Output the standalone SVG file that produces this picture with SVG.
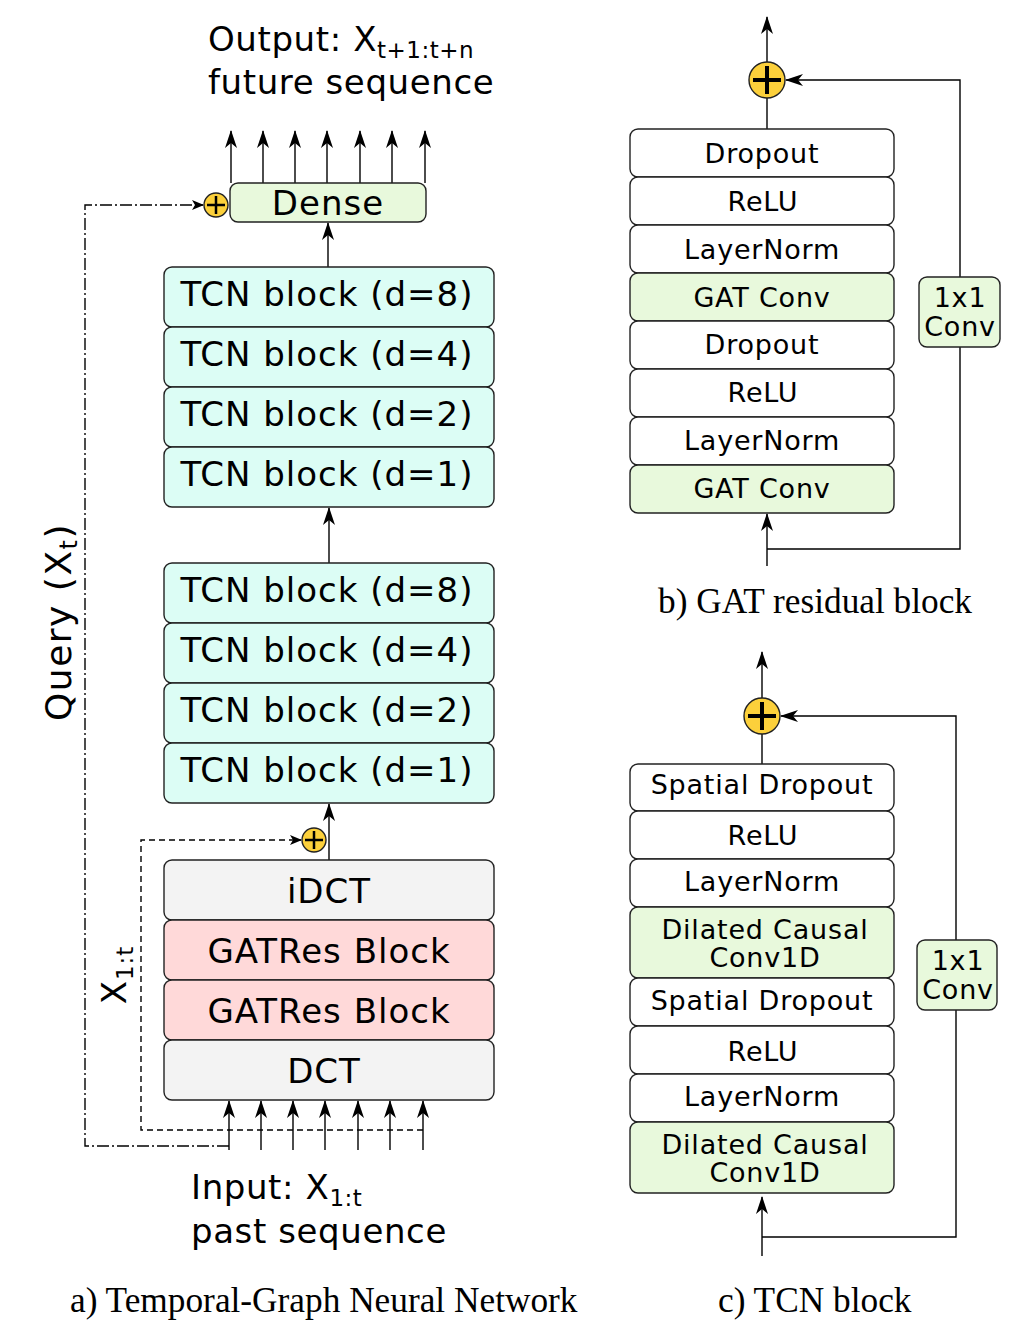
<svg xmlns="http://www.w3.org/2000/svg" width="1024" height="1328" viewBox="0 0 1024 1328">
<style>
.box{stroke:#222;stroke-width:1.4}
.w{fill:#ffffff}.g{fill:#e8f9dc}.c{fill:#dcfdf5}.p{fill:#ffd9d9}.s{fill:#f3f3f3}
.t{font-family:"DejaVu Sans",Verdana,sans-serif;fill:#000}
.big{font-size:34px;letter-spacing:1px}.mid{font-size:27px;letter-spacing:0.8px}
.lbl{font-size:34px;letter-spacing:0.6px}
.cap{font-family:"Liberation Serif","Times New Roman",serif;font-size:35.3px;fill:#000}
.ln{stroke:#000;stroke-width:1.4;fill:none}
.dash{stroke:#000;stroke-width:1.4;fill:none;stroke-dasharray:6 4}
.dd{stroke:#000;stroke-width:1.4;fill:none;stroke-dasharray:12 3 2 3}
.plus{fill:#fcd03b;stroke:#222;stroke-width:1.4}
</style>
<defs>
<marker id="arr" viewBox="0 0 18 12" refX="17" refY="6" markerWidth="18" markerHeight="12" markerUnits="userSpaceOnUse" orient="auto">
<path d="M0,0 L18,6 L0,12 L5,6 z" fill="#000"/>
</marker>
<marker id="arrs" viewBox="0 0 12 10" refX="11" refY="5" markerWidth="12" markerHeight="10" markerUnits="userSpaceOnUse" orient="auto">
<path d="M0,0 L12,5 L0,10 L3,5 z" fill="#000"/>
</marker>
</defs>

<!-- labels -->
<text class="t lbl" x="208" y="51">Output: X<tspan font-size="23" letter-spacing="0.5" dy="7">t+1:t+n</tspan></text>
<text class="t lbl" x="208" y="94">future sequence</text>
<text class="t lbl" x="191" y="1199">Input: X<tspan font-size="23" letter-spacing="0.5" dy="7">1:t</tspan></text>
<text class="t lbl" x="191" y="1243">past sequence</text>
<text class="t" font-size="36" letter-spacing="1.5" transform="translate(71,622) rotate(-90)" text-anchor="middle">Query (X<tspan font-size="24" dy="6">t</tspan><tspan dy="-6">)</tspan></text>
<text class="t big" transform="translate(126,975) rotate(-90)" text-anchor="middle">X<tspan font-size="23" dy="7">1:t</tspan></text>
<text class="cap" x="70" y="1312">a) Temporal-Graph Neural Network</text>
<text class="cap" x="658" y="613">b) GAT residual block</text>
<text class="cap" x="718" y="1312">c) TCN block</text>

<!-- connectors -->
<g id="connectors">
<line class="ln" x1="231" y1="183" x2="231" y2="131" marker-end="url(#arr)"/>
<line class="ln" x1="263" y1="183" x2="263" y2="131" marker-end="url(#arr)"/>
<line class="ln" x1="295" y1="183" x2="295" y2="131" marker-end="url(#arr)"/>
<line class="ln" x1="327" y1="183" x2="327" y2="131" marker-end="url(#arr)"/>
<line class="ln" x1="360" y1="183" x2="360" y2="131" marker-end="url(#arr)"/>
<line class="ln" x1="392" y1="183" x2="392" y2="131" marker-end="url(#arr)"/>
<line class="ln" x1="425" y1="183" x2="425" y2="131" marker-end="url(#arr)"/>
<line class="ln" x1="328" y1="267" x2="328" y2="223" marker-end="url(#arr)"/>
<line class="ln" x1="329" y1="563" x2="329" y2="508" marker-end="url(#arr)"/>
<line class="ln" x1="329" y1="860" x2="329" y2="804" marker-end="url(#arr)"/>
<line class="ln" x1="229" y1="1150" x2="229" y2="1101" marker-end="url(#arr)"/>
<line class="ln" x1="261" y1="1150" x2="261" y2="1101" marker-end="url(#arr)"/>
<line class="ln" x1="293" y1="1150" x2="293" y2="1101" marker-end="url(#arr)"/>
<line class="ln" x1="325" y1="1150" x2="325" y2="1101" marker-end="url(#arr)"/>
<line class="ln" x1="358" y1="1150" x2="358" y2="1101" marker-end="url(#arr)"/>
<line class="ln" x1="390" y1="1150" x2="390" y2="1101" marker-end="url(#arr)"/>
<line class="ln" x1="423" y1="1150" x2="423" y2="1101" marker-end="url(#arr)"/>
<polyline class="dash" points="423,1130 141,1130 141,840 301,840" marker-end="url(#arrs)"/>
<polyline class="dd" points="229,1146 85,1146 85,205 203,205" marker-end="url(#arrs)"/>
<!-- b -->
<line class="ln" x1="767" y1="129" x2="767" y2="98"/>
<line class="ln" x1="767" y1="62" x2="767" y2="17" marker-end="url(#arr)"/>
<line class="ln" x1="767" y1="566" x2="767" y2="514" marker-end="url(#arr)"/>
<polyline class="ln" points="767,549 960,549 960,347"/>
<polyline class="ln" points="960,277 960,80 786,80" marker-end="url(#arr)"/>
<!-- c -->
<line class="ln" x1="762" y1="764" x2="762" y2="734"/>
<line class="ln" x1="762" y1="698" x2="762" y2="652" marker-end="url(#arr)"/>
<line class="ln" x1="762" y1="1256" x2="762" y2="1197" marker-end="url(#arr)"/>
<polyline class="ln" points="762,1237 956,1237 956,1010"/>
<polyline class="ln" points="956,940 956,716 781,716" marker-end="url(#arr)"/>
</g>

<!-- plus nodes -->
<g id="add-dense"><circle class="plus" cx="216" cy="205" r="12"/><path d="M207,205 H225 M216,196 V214" stroke="#000" stroke-width="2.5"/></g>
<g id="add-idct"><circle class="plus" cx="314" cy="840" r="12"/><path d="M305,840 H323 M314,831 V849" stroke="#000" stroke-width="2.5"/></g>
<g id="add-gat"><circle class="plus" cx="767" cy="80" r="18"/><path d="M753,80 H781 M767,66 V94" stroke="#000" stroke-width="4"/></g>
<g id="add-tcn"><circle class="plus" cx="762" cy="716" r="18"/><path d="M748,716 H776 M762,702 V730" stroke="#000" stroke-width="4"/></g>

<!-- left column nodes -->
<g id="dense"><rect class="box g" x="230" y="183" width="196" height="39" rx="8"/><text class="t big" x="328" y="215" text-anchor="middle">Dense</text></g>
<g id="tcn-a8"><rect class="box c" x="164" y="267" width="330" height="60" rx="8"/><text class="t big" x="327" y="306" text-anchor="middle">TCN block (d=8)</text></g>
<g id="tcn-a4"><rect class="box c" x="164" y="327" width="330" height="60" rx="8"/><text class="t big" x="327" y="366" text-anchor="middle">TCN block (d=4)</text></g>
<g id="tcn-a2"><rect class="box c" x="164" y="387" width="330" height="60" rx="8"/><text class="t big" x="327" y="426" text-anchor="middle">TCN block (d=2)</text></g>
<g id="tcn-a1"><rect class="box c" x="164" y="447" width="330" height="60" rx="8"/><text class="t big" x="327" y="486" text-anchor="middle">TCN block (d=1)</text></g>
<g id="tcn-b8"><rect class="box c" x="164" y="563" width="330" height="60" rx="8"/><text class="t big" x="327" y="602" text-anchor="middle">TCN block (d=8)</text></g>
<g id="tcn-b4"><rect class="box c" x="164" y="623" width="330" height="60" rx="8"/><text class="t big" x="327" y="662" text-anchor="middle">TCN block (d=4)</text></g>
<g id="tcn-b2"><rect class="box c" x="164" y="683" width="330" height="60" rx="8"/><text class="t big" x="327" y="722" text-anchor="middle">TCN block (d=2)</text></g>
<g id="tcn-b1"><rect class="box c" x="164" y="743" width="330" height="60" rx="8"/><text class="t big" x="327" y="782" text-anchor="middle">TCN block (d=1)</text></g>
<g id="idct"><rect class="box s" x="164" y="860" width="330" height="60" rx="8"/><text class="t big" x="329" y="903" text-anchor="middle">iDCT</text></g>
<g id="gatres1"><rect class="box p" x="164" y="920" width="330" height="60" rx="8"/><text class="t big" x="329" y="963" text-anchor="middle">GATRes Block</text></g>
<g id="gatres2"><rect class="box p" x="164" y="980" width="330" height="60" rx="8"/><text class="t big" x="329" y="1023" text-anchor="middle">GATRes Block</text></g>
<g id="dct"><rect class="box s" x="164" y="1040" width="330" height="60" rx="8"/><text class="t big" x="324" y="1083" text-anchor="middle">DCT</text></g>

<!-- b) GAT residual block -->
<g id="b-dropout2"><rect class="box w" x="630" y="129" width="264" height="48" rx="8"/><text class="t mid" x="762" y="163" text-anchor="middle">Dropout</text></g>
<g id="b-relu2"><rect class="box w" x="630" y="177" width="264" height="48" rx="8"/><text class="t mid" x="763" y="211" text-anchor="middle">ReLU</text></g>
<g id="b-ln2"><rect class="box w" x="630" y="225" width="264" height="48" rx="8"/><text class="t mid" x="762" y="259" text-anchor="middle">LayerNorm</text></g>
<g id="b-gat2"><rect class="box g" x="630" y="273" width="264" height="48" rx="8"/><text class="t mid" x="762" y="307" text-anchor="middle">GAT Conv</text></g>
<g id="b-dropout1"><rect class="box w" x="630" y="321" width="264" height="48" rx="8"/><text class="t mid" x="762" y="354" text-anchor="middle">Dropout</text></g>
<g id="b-relu1"><rect class="box w" x="630" y="369" width="264" height="48" rx="8"/><text class="t mid" x="763" y="402" text-anchor="middle">ReLU</text></g>
<g id="b-ln1"><rect class="box w" x="630" y="417" width="264" height="48" rx="8"/><text class="t mid" x="762" y="450" text-anchor="middle">LayerNorm</text></g>
<g id="b-gat1"><rect class="box g" x="630" y="465" width="264" height="48" rx="8"/><text class="t mid" x="762" y="498" text-anchor="middle">GAT Conv</text></g>
<g id="b-conv"><rect class="box g" x="919" y="277" width="81" height="70" rx="8"/><text class="t mid" x="960" y="307" text-anchor="middle">1x1</text><text class="t mid" x="960" y="336" text-anchor="middle">Conv</text></g>

<!-- c) TCN block -->
<g id="c-sd2"><rect class="box w" x="630" y="764" width="264" height="47" rx="8"/><text class="t mid" x="762" y="794" text-anchor="middle">Spatial Dropout</text></g>
<g id="c-relu2"><rect class="box w" x="630" y="811" width="264" height="48" rx="8"/><text class="t mid" x="763" y="845" text-anchor="middle">ReLU</text></g>
<g id="c-ln2"><rect class="box w" x="630" y="859" width="264" height="48" rx="8"/><text class="t mid" x="762" y="891" text-anchor="middle">LayerNorm</text></g>
<g id="c-conv2"><rect class="box g" x="630" y="907" width="264" height="71" rx="8"/><text class="t mid" x="765" y="939" text-anchor="middle">Dilated Causal</text><text class="t mid" x="765" y="967" text-anchor="middle">Conv1D</text></g>
<g id="c-sd1"><rect class="box w" x="630" y="978" width="264" height="48" rx="8"/><text class="t mid" x="762" y="1010" text-anchor="middle">Spatial Dropout</text></g>
<g id="c-relu1"><rect class="box w" x="630" y="1026" width="264" height="48" rx="8"/><text class="t mid" x="763" y="1061" text-anchor="middle">ReLU</text></g>
<g id="c-ln1"><rect class="box w" x="630" y="1074" width="264" height="48" rx="8"/><text class="t mid" x="762" y="1106" text-anchor="middle">LayerNorm</text></g>
<g id="c-conv1"><rect class="box g" x="630" y="1122" width="264" height="71" rx="8"/><text class="t mid" x="765" y="1154" text-anchor="middle">Dilated Causal</text><text class="t mid" x="765" y="1182" text-anchor="middle">Conv1D</text></g>
<g id="c-conv"><rect class="box g" x="917" y="940" width="80" height="70" rx="8"/><text class="t mid" x="958" y="970" text-anchor="middle">1x1</text><text class="t mid" x="958" y="999" text-anchor="middle">Conv</text></g>
</svg>
